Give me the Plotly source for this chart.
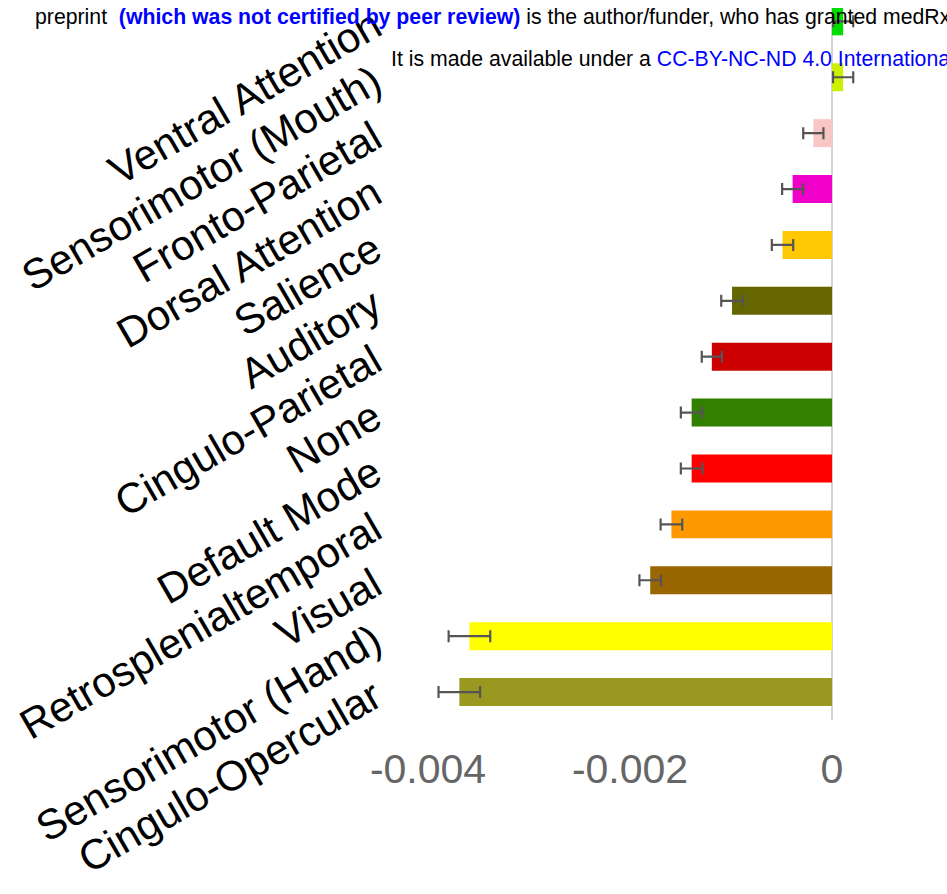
import plotly.graph_objects as go

# Network labels, listed from the top row of the chart downward
networks = [
    "Ventral Attention",
    "Sensorimotor (Mouth)",
    "Fronto-Parietal",
    "Dorsal Attention",
    "Salience",
    "Auditory",
    "Cingulo-Parietal",
    "None",
    "Default Mode",
    "Retrosplenialtemporal",
    "Visual",
    "Sensorimotor (Hand)",
    "Cingulo-Opercular",
]

# Mean effect per network and its standard error
effect = [
    0.00011, 0.00011, -0.000185, -0.00039, -0.00049, -0.00099, -0.00119,
    -0.00139, -0.00139, -0.00159, -0.00180, -0.00359, -0.00369,
]
stderr = [
    0.0001, 0.0001, 0.0001, 0.000104, 0.000106, 0.000107, 0.0001,
    0.000107, 0.000107, 0.000107, 0.000107, 0.000206, 0.000206,
]

bar_colors = [
    "#00DD00", "#CCF000", "#F9C6C6", "#F000C8", "#FFC800", "#666600", "#CC0000",
    "#338000", "#FF0000", "#FF9900", "#996600", "#FFFF00", "#999922",
]

tick_values = [-0.004, -0.002, 0]
tick_labels = ["-0.004", "-0.002", "0"]

fig = go.Figure(
    go.Bar(
        x=effect,
        y=networks,
        orientation="h",
        marker=dict(color=bar_colors, line=dict(width=0)),
        error_x=dict(type="data", array=stderr, color="#555555", thickness=2.2, width=6),
    )
)

plot_left, plot_right = 395, 870
fig.update_layout(
    width=947,
    height=894,
    margin=dict(l=plot_left, r=947 - plot_right, t=0, b=174),
    paper_bgcolor="white",
    plot_bgcolor="white",
    showlegend=False,
    bargap=0.5,
    font=dict(family="Liberation Sans, Arial, sans-serif"),
    xaxis=dict(
        range=[-0.004327, 0.000376],
        tickvals=tick_values,
        ticktext=tick_labels,
        tickfont=dict(size=41, color="#666666"),
        ticklabelstandoff=21,
        showgrid=False,
        showline=False,
        zeroline=True,
        zerolinecolor="#D3D3D3",
        zerolinewidth=2,
    ),
    yaxis=dict(
        type="category",
        range=[12.5, -0.239],
        tickangle=-30,
        tickfont=dict(size=42, color="black"),
        ticklabelstandoff=20,
        showgrid=False,
        showline=False,
        zeroline=False,
    ),
)

# Licence header lines printed across the top of the page
fig.add_annotation(
    xref="paper", yref="paper",
    x=(33 - plot_left) / (plot_right - plot_left), y=(720 - 9.2) / 720,
    xanchor="left", yanchor="middle", showarrow=False,
    text="preprint&nbsp; <b><span style='color:#0000FF'>(which was not certified by peer review)</span></b>"
         " is the author/funder, who has granted medRxiv a license to display the preprint in perpetuity.",
    font=dict(size=21.25, color="black", family="Liberation Sans, Arial, sans-serif"),
)
fig.add_annotation(
    xref="paper", yref="paper",
    x=(389 - plot_left) / (plot_right - plot_left), y=(720 - 51.5) / 720,
    xanchor="left", yanchor="middle", showarrow=False,
    text="It is made available under a <span style='color:#0000FF'>CC-BY-NC-ND 4.0 International license</span>.",
    font=dict(size=21.25, color="black", family="Liberation Sans, Arial, sans-serif"),
)

fig.write_html("out.html")
